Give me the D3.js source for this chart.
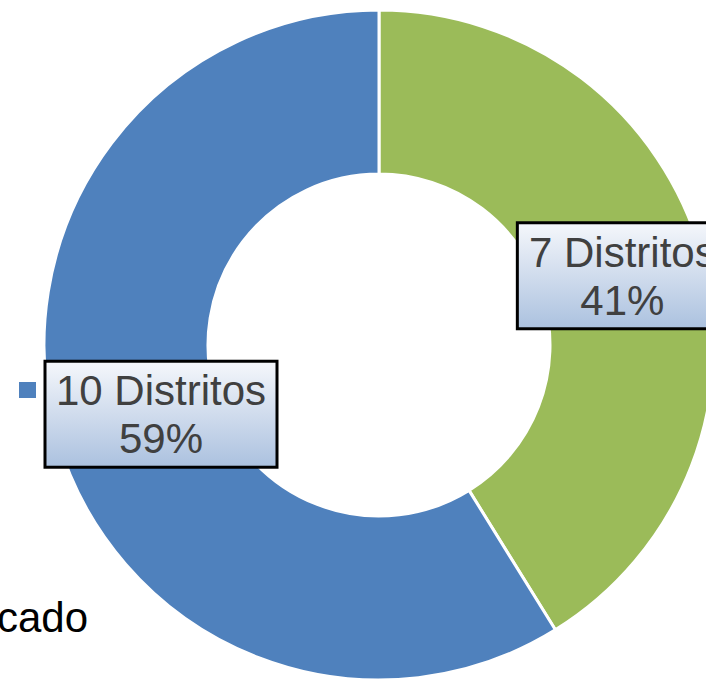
<!DOCTYPE html>
<html><head><meta charset="utf-8">
<script src="https://cdn.jsdelivr.net/npm/d3@7"></script>
<style>html,body{margin:0;padding:0;background:#fff;overflow:hidden}</style>
</head><body>
<svg id="c" width="706" height="679"></svg>
<script>
const categories = ["7 Distritos", "10 Distritos"];
const values = [7, 10];
const colors = ["#9BBB59", "#4F81BD"];
const legendTail = "cado";

const svg = d3.select("#c");
const cx = 379, cy = 345, rOuter = 335, rInner = 171;
const total = d3.sum(values);
const pie = d3.pie().sort(null).value(d => d.v);
const arcs = pie(categories.map((c, i) => ({c, v: values[i], col: colors[i]})));
const arc = d3.arc().innerRadius(rInner).outerRadius(rOuter);
const g = svg.append("g").attr("transform", `translate(${cx},${cy})`);
g.selectAll("path").data(arcs).join("path")
  .attr("d", arc).attr("fill", d => d.data.col)
  .attr("stroke", "#fff").attr("stroke-width", 3).attr("stroke-linejoin", "round");

// legend remnants
svg.append("rect").attr("x", 19).attr("y", 382).attr("width", 17).attr("height", 16).attr("fill", colors[1]);
svg.append("text").attr("x", 88).attr("y", 632).attr("text-anchor", "end")
  .attr("font-family", "Liberation Sans, Arial, sans-serif").attr("font-size", 42).attr("fill", "#000").text(legendTail);

// gradient
const defs = svg.append("defs");
const gr = defs.append("linearGradient").attr("id", "lg").attr("x1", 0).attr("y1", 0).attr("x2", 0).attr("y2", 1);
gr.append("stop").attr("offset", "0%").attr("stop-color", "#f5f7fb");
gr.append("stop").attr("offset", "100%").attr("stop-color", "#abc1df");

const fmt = d3.format(".0%");
const labelR = (rInner + rOuter) / 2;
const la = d3.arc().innerRadius(labelR).outerRadius(labelR);
arcs.forEach(d => {
  const [x, y] = la.centroid(d);
  const w = d.data.c.length > 11 ? 232 : 210, h = 106;
  let bx = cx + x - w / 2;
  if (bx < 45) bx = 45;
  const by = cy + y - h / 2;
  const lg = svg.append("g");
  lg.append("rect").attr("x", bx).attr("y", by).attr("width", w).attr("height", h)
    .attr("fill", "url(#lg)").attr("stroke", "#000").attr("stroke-width", 3);
  const t = lg.append("text").attr("text-anchor", "middle")
    .attr("font-family", "Liberation Sans, Arial, sans-serif").attr("font-size", 42).attr("fill", "#404040");
  t.append("tspan").attr("x", bx + w / 2).attr("y", by + 44).text(d.data.c);
  t.append("tspan").attr("x", bx + w / 2).attr("y", by + 92).text(fmt(d.data.v / total));
});
</script>
</body></html>
